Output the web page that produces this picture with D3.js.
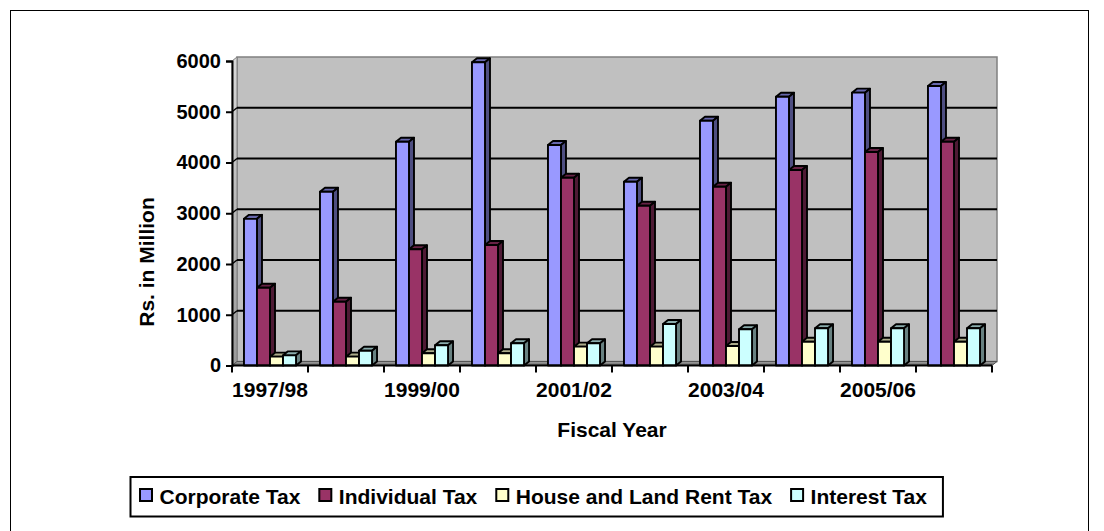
<!DOCTYPE html>
<html>
<head>
<meta charset="utf-8">
<script src="https://cdn.jsdelivr.net/npm/d3@7"></script>
<style>
  html, body { margin: 0; padding: 0; background: #ffffff; }
  svg { display: block; }
  text { font-family: "Liberation Sans", Arial, sans-serif; font-weight: bold; fill: #000; }
</style>
</head>
<body>
<svg id="chart" width="1104" height="531"></svg>
<script>
// Tax revenue by fiscal year (Rs. in Million)
const categories = ["1997/98", "1998/99", "1999/00", "2000/01", "2001/02",
                    "2002/03", "2003/04", "2004/05", "2005/06", "2006/07"];
const seriesNames = ["Corporate Tax", "Individual Tax", "House and Land Rent Tax", "Interest Tax"];
const corporateTax     = [2890, 3425, 4410, 5975, 4345, 3622, 4824, 5297, 5376, 5507];
const individualTax    = [1533, 1257, 2290, 2374, 3700, 3149, 3523, 3852, 4207, 4410];
const houseLandRentTax = [174, 174, 240, 240, 371, 371, 384, 469, 469, 469];
const interestTax      = [200, 292, 398, 437, 437, 818, 713, 733, 733, 733];
const yTicks = [0, 1000, 2000, 3000, 4000, 5000, 6000];
const xLabels = ["1997/98", "1999/00", "2001/02", "2003/04", "2005/06"];

const seriesValues = [corporateTax, individualTax, houseLandRentTax, interestTax];
const seriesColors = ["#9999FF", "#993366", "#FFFFCC", "#CCFFFF"];

const svg = d3.select("#chart");

// chart area frame
svg.append("rect")
  .attr("x", 10.5).attr("y", 10.5)
  .attr("width", 1078).attr("height", 540)
  .attr("fill", "#fff").attr("stroke", "#000").attr("stroke-width", 1);

const x = d3.scaleBand().domain(categories).range([232, 992]).paddingInner(0).paddingOuter(0);
const inner = d3.scaleBand().domain(seriesNames).range([0, x.bandwidth()])
  .paddingInner(0).paddingOuter(0.92);
const y = d3.scaleLinear().domain([0, 6000]).range([365.5, 61]);

// depth offsets for the 3-D look
const wdx = 5, wdy = 4;     // walls / floor
const bdx = 5, bdy = 4;     // columns

const x0 = x.range()[0], x1 = x.range()[1];
const yb = y(0), yt = y(6000);

const defs = svg.append("defs");
const sideGrad = defs.append("linearGradient").attr("id", "sideWall")
  .attr("x1", 0).attr("y1", 0).attr("x2", 0).attr("y2", 1);
sideGrad.append("stop").attr("offset", "0%").attr("stop-color", "#d9d9d9");
sideGrad.append("stop").attr("offset", "100%").attr("stop-color", "#9a9a9a");
const floorGrad = defs.append("linearGradient").attr("id", "floor")
  .attr("x1", 0).attr("y1", 0).attr("x2", 0).attr("y2", 1);
floorGrad.append("stop").attr("offset", "0%").attr("stop-color", "#a6a6a6");
floorGrad.append("stop").attr("offset", "100%").attr("stop-color", "#5f5f5f");

const poly = pts => "M" + pts.map(p => p.join(",")).join("L") + "Z";

// back wall
svg.append("path")
  .attr("d", poly([[x0 + wdx, yt - wdy], [x1 + wdx, yt - wdy], [x1 + wdx, yb - wdy], [x0 + wdx, yb - wdy]]))
  .attr("fill", "#C0C0C0").attr("stroke", "#808080").attr("stroke-width", 1.5);
// side wall
svg.append("path")
  .attr("d", poly([[x0, yb], [x0, yt], [x0 + wdx, yt - wdy], [x0 + wdx, yb - wdy]]))
  .attr("fill", "url(#sideWall)").attr("stroke", "#808080").attr("stroke-width", 1);
// floor
svg.append("path")
  .attr("d", poly([[x0, yb], [x1, yb], [x1 + wdx, yb - wdy], [x0 + wdx, yb - wdy]]))
  .attr("fill", "url(#floor)").attr("stroke", "#555").attr("stroke-width", 1);

// gridlines on the back and side walls
const grid = svg.append("g");
yTicks.filter(v => v > 0 && v < 6000).forEach(v => {
  grid.append("line")
    .attr("x1", x0 + wdx).attr("x2", x1 + wdx)
    .attr("y1", y(v) - wdy).attr("y2", y(v) - wdy)
    .attr("stroke", "#000").attr("stroke-width", 2);
  grid.append("line")
    .attr("x1", x0).attr("x2", x0 + wdx)
    .attr("y1", y(v)).attr("y2", y(v) - wdy)
    .attr("stroke", "#000").attr("stroke-width", 1.5);
});

// columns
const bars = svg.append("g").attr("stroke", "#000").attr("stroke-width", 1.9).attr("stroke-linejoin", "round");
const w = inner.bandwidth();
categories.forEach((cat, i) => {
  seriesNames.forEach((name, s) => {
    const v = seriesValues[s][i];
    const bx = x(cat) + inner(name);
    const top = y(v);
    const base = d3.color(seriesColors[s]);
    const g = bars.append("g");
    // top face
    g.append("path")
      .attr("d", poly([[bx, top], [bx + w, top], [bx + w + bdx, top - bdy], [bx + bdx, top - bdy]]))
      .attr("fill", base.darker(1.1).formatHex());
    // right side face
    g.append("path")
      .attr("d", poly([[bx + w, top], [bx + w + bdx, top - bdy], [bx + w + bdx, yb - bdy], [bx + w, yb]]))
      .attr("fill", base.darker(1.9).formatHex());
    // front face
    g.append("rect")
      .attr("x", bx).attr("y", top)
      .attr("width", w).attr("height", yb - top)
      .attr("fill", base.formatHex());
  });
});

// value axis
const yAxis = svg.append("g").attr("transform", `translate(${x0},0)`)
  .call(d3.axisLeft(y).tickValues(yTicks).tickSize(6).tickPadding(5).tickFormat(d3.format("d")));
yAxis.select(".domain").attr("stroke", "#000").attr("stroke-width", 2);
yAxis.selectAll(".tick line").attr("stroke", "#000").attr("stroke-width", 2);
yAxis.selectAll(".tick text").style("font-size", "20px").style("font-family", null);

// category axis: tick marks on category boundaries, labels centred on every other category
const xAxisG = svg.append("g").attr("transform", `translate(0,${yb})`);
xAxisG.append("line").attr("x1", x0).attr("x2", x1).attr("stroke", "#000").attr("stroke-width", 2);
categories.concat([null]).forEach((c, i) => {
  const tx = c === null ? x1 : x(c);
  xAxisG.append("line").attr("x1", tx).attr("x2", tx).attr("y1", 0).attr("y2", 7)
    .attr("stroke", "#000").attr("stroke-width", 2);
});
const xAxis = svg.append("g").attr("transform", `translate(0,${yb})`)
  .call(d3.axisBottom(x).tickValues(xLabels).tickSize(0).tickPadding(17));
xAxis.select(".domain").remove();
xAxis.selectAll(".tick text").style("font-size", "21px").style("font-family", null);

// axis titles
svg.append("text")
  .attr("x", (x0 + x1) / 2).attr("y", 437)
  .attr("text-anchor", "middle").style("font-size", "21px")
  .text("Fiscal Year");
svg.append("text")
  .attr("transform", "translate(154,262) rotate(-90)")
  .attr("text-anchor", "middle").style("font-size", "21px")
  .text("Rs. in Million");

// legend
const legend = svg.append("g");
const legendBox = legend.append("rect")
  .attr("x", 130.5).attr("y", 477).attr("height", 39.5)
  .attr("fill", "#fff").attr("stroke", "#000").attr("stroke-width", 2);
let lx = 140;
seriesNames.forEach((name, s) => {
  legend.append("rect")
    .attr("x", lx).attr("y", 489).attr("width", 12).attr("height", 12)
    .attr("fill", seriesColors[s]).attr("stroke", "#000").attr("stroke-width", 2);
  const t = legend.append("text")
    .attr("x", lx + 19.5).attr("y", 503.5)
    .style("font-size", "21px")
    .text(name);
  lx = lx + 19.5 + t.node().getComputedTextLength() + 19;
});
legendBox.attr("width", lx - 130.5 - 3);
</script>
</body>
</html>
